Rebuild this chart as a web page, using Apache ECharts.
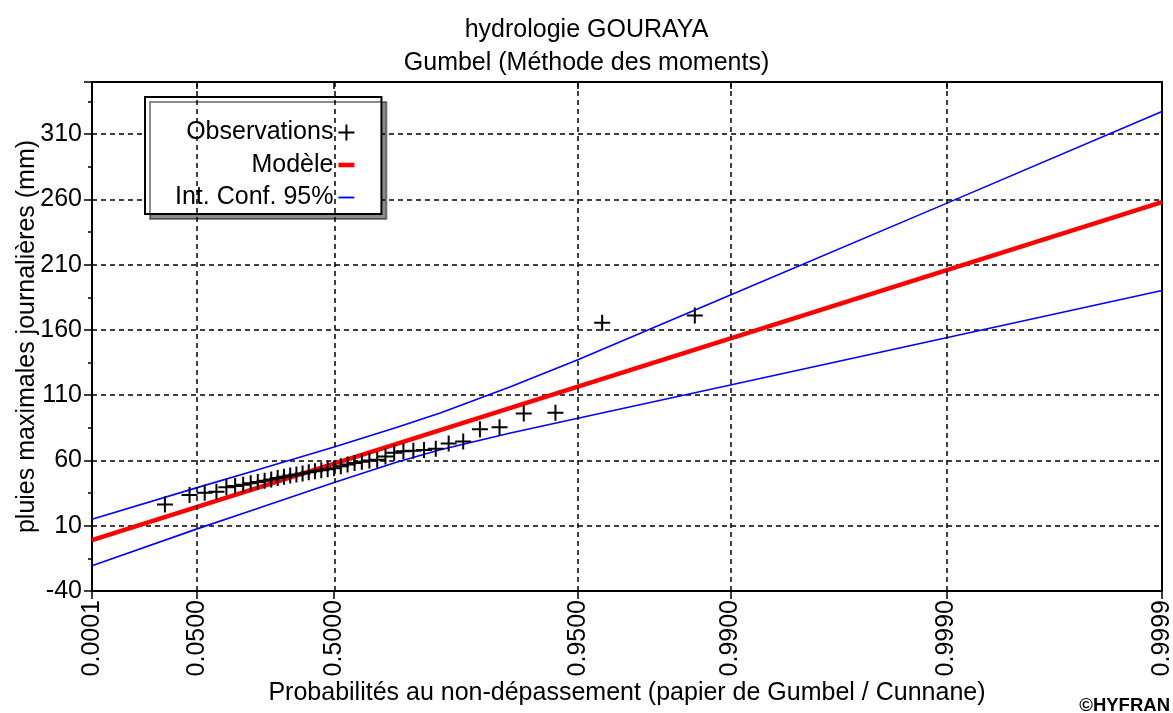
<!DOCTYPE html>
<html><head><meta charset="utf-8">
<script src="https://cdn.jsdelivr.net/npm/echarts@6/dist/echarts.min.js"></script>
<style>html,body{margin:0;padding:0;background:#fff}#c{width:1173px;height:713px}</style>
</head><body><div id="c"></div>
<script>
// ---- data ----
const titleText = 'hydrologie GOURAYA\nGumbel (Méthode des moments)';
const xAxisName = 'Probabilités au non-dépassement (papier de Gumbel / Cunnane)';
const yAxisName = 'pluies maximales journalières (mm)';
const xTickProbs = [0.0001, 0.05, 0.5, 0.95, 0.99, 0.999, 0.9999];
const yTicks = [-40, 10, 60, 110, 160, 210, 260, 310];
const legendNames = ['Observations', 'Modèle', 'Int. Conf. 95%'];

// observations: Cunnane non-exceedance probability and value (mm)
const obsProb = [0.0146, 0.0388, 0.0631, 0.0874, 0.1117, 0.1359, 0.1602, 0.1845, 0.2087, 0.2330,
  0.2573, 0.2816, 0.3058, 0.3301, 0.3544, 0.3786, 0.4029, 0.4272, 0.4515, 0.4757,
  0.5000, 0.5243, 0.5485, 0.5728, 0.5971, 0.6214, 0.6456, 0.6699, 0.6942, 0.7184,
  0.7427, 0.7670, 0.7913, 0.8155, 0.8398, 0.8641, 0.8883, 0.9126, 0.9369, 0.9612, 0.9854];
const obsValue = [26.3, 33.6, 35.3, 36.0, 39.5, 40.5, 41.5, 42.5, 43.5, 44.5,
  45.5, 46.5, 47.5, 48.5, 49.2, 50.0, 51.0, 51.8, 52.5, 53.2,
  54.0, 55.5, 57.0, 58.0, 59.0, 60.0, 60.5, 63.0, 66.0, 67.0,
  67.5, 68.0, 69.0, 73.0, 74.5, 84.0, 85.5, 96.0, 96.5, 165.5, 171.0];

// fitted Gumbel model (straight on Gumbel paper)
const modelProb = [0.0001, 0.9999];
const modelValue = [-1.0, 258.0];

// 95% confidence interval
const ciProb  = [0.0001, 0.05, 0.2, 0.5, 0.7, 0.8, 0.9, 0.95, 0.99, 0.999, 0.9999];
const ciUpper = [15.0, 39.2, 52.4, 70.4, 85.2, 96.4, 116.5, 137.2, 186.8, 257.0, 327.4];
const ciLower = [-20.6, 7.6, 22.6, 43.2, 58.6, 68.2, 81.0, 92.3, 117.8, 154.0, 190.3];

// ---- Gumbel paper scale ----
const gumbelU = p => -Math.log(-Math.log(p));
const probFromU = u => Math.exp(-Math.exp(-u));
const pairs = (ps, vs) => ps.map((p, i) => [gumbelU(p), vs[i]]);

const FONT = 'Liberation Sans, Arial, sans-serif';
const xTickU = xTickProbs.map(gumbelU);
const xMin = gumbelU(xTickProbs[0]);
const xMax = gumbelU(xTickProbs[xTickProbs.length - 1]);
const dashed = {type: [5, 4], color: '#000', width: 1.5};

const chart = echarts.init(document.getElementById('c'), null, {renderer: 'canvas'});
chart.setOption({
  animation: false,
  backgroundColor: '#fff',
  title: {
    text: titleText, left: 'center', top: 14, padding: 0,
    textStyle: {fontFamily: FONT, fontSize: 25, fontWeight: 'normal', color: '#000', lineHeight: 33}
  },
  grid: {left: 92, right: 11, top: 82, bottom: 122, show: true, borderColor: '#000', borderWidth: 2,
    backgroundColor: 'transparent', outerBoundsMode: 'none', containLabel: false},
  legend: {
    orient: 'vertical', align: 'right', left: 145, top: 97,
    padding: [23, 27, 4, 30], itemGap: 7.5, itemWidth: 16, itemHeight: 16,
    symbolKeepAspect: true,
    backgroundColor: '#fff', borderColor: '#000', borderWidth: 2,
    shadowColor: 'rgba(0,0,0,0.45)', shadowOffsetX: 5, shadowOffsetY: 5, shadowBlur: 0,
    selectedMode: false,
    textStyle: {fontFamily: FONT, fontSize: 25, color: '#000'},
    data: [
      {name: legendNames[0]},
      {name: legendNames[1], icon: 'path://M0,0h14v4h-14z'},
      {name: legendNames[2], icon: 'path://M0,0h14v1.6h-14z'}
    ]
  },
  xAxis: [{
    type: 'value', min: xMin, max: xMax, position: 'bottom',
    name: xAxisName, nameLocation: 'middle', nameGap: 90, nameMoveOverlap: false,
    nameTextStyle: {fontFamily: FONT, fontSize: 25, color: '#000'},
    axisLine: {show: true, onZero: false, lineStyle: {color: '#000', width: 2}},
    axisTick: {show: true, customValues: xTickU, length: 8, lineStyle: {color: '#000', width: 1.5}},
    axisLabel: {show: true, customValues: xTickU, rotate: 90, margin: 9,
      fontFamily: FONT, fontSize: 25, color: '#000',
      formatter: v => probFromU(v).toFixed(4)},
    splitLine: {show: false}
  }, {
    type: 'value', min: xMin, max: xMax, position: 'top',
    axisLine: {show: true, onZero: false, lineStyle: {color: '#000', width: 2}},
    axisTick: {show: true, inside: true, customValues: xTickU, length: 7, lineStyle: {color: '#000', width: 1.5}},
    axisLabel: {show: false},
    splitLine: {show: false}
  }],
  yAxis: {
    type: 'value', min: yTicks[0], max: 350, interval: yTicks[1] - yTicks[0],
    name: yAxisName, nameLocation: 'middle', nameGap: 52, nameRotate: 90, nameMoveOverlap: false,
    nameTextStyle: {fontFamily: FONT, fontSize: 25, color: '#000'},
    axisLine: {show: true, onZero: false, lineStyle: {color: '#000', width: 2}},
    axisTick: {show: true, length: 8, lineStyle: {color: '#000', width: 1.5}},
    minorTick: {show: true, splitNumber: 2, length: 4, lineStyle: {color: '#000', width: 1.5}},
    axisLabel: {fontFamily: FONT, fontSize: 25, color: '#000', margin: 10, showMaxLabel: false},
    splitLine: {show: true, lineStyle: dashed}
  },
  graphic: [{
    type: 'text', right: 3, top: 696,
    style: {text: '©HYFRAN', font: 'bold 18.5px ' + FONT, fill: '#000'}
  }],
  series: [{
    name: 'grid-x', type: 'line', data: [], silent: true, z: 1,
    markLine: {
      silent: true, symbol: ['none', 'none'], label: {show: false},
      lineStyle: dashed, emphasis: {disabled: true},
      data: xTickU.slice(1, -1).map(u => ({xAxis: u}))
    }
  }, {
    name: legendNames[2], type: 'line', data: pairs(ciProb, ciUpper), symbol: 'none',
    lineStyle: {color: '#0000ff', width: 1.6}, itemStyle: {color: '#0000ff'}, z: 3
  }, {
    name: legendNames[2], type: 'line', data: pairs(ciProb, ciLower), symbol: 'none',
    lineStyle: {color: '#0000ff', width: 1.6}, itemStyle: {color: '#0000ff'}, z: 3
  }, {
    name: legendNames[1], type: 'line', data: pairs(modelProb, modelValue), symbol: 'none',
    lineStyle: {color: '#ff0000', width: 4.5}, itemStyle: {color: '#ff0000'}, z: 4
  }, {
    name: legendNames[0], type: 'scatter', data: pairs(obsProb, obsValue),
    symbol: 'path://M7,0h2v16h-2zM0,7h16v2h-16z', symbolSize: 16,
    itemStyle: {color: '#000', opacity: 1}, z: 5
  }]
});
</script></body></html>
